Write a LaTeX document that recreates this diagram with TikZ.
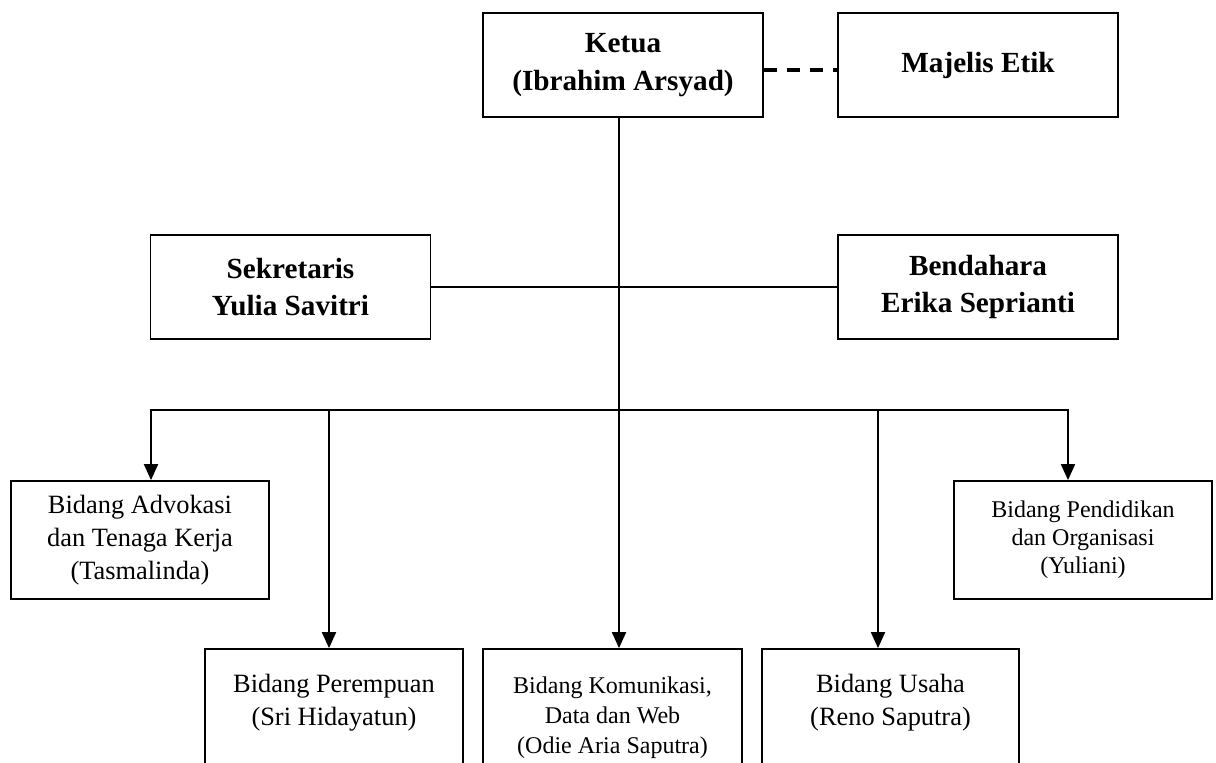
\documentclass[tikz,border=0pt]{standalone}
\usepackage{fontspec}
\setmainfont{Liberation Serif}
\usetikzlibrary{arrows.meta}

\tikzset{
  kotak/.style={draw,line width=.9pt,inner sep=0pt,align=center},
  pengurus/.style={kotak,minimum width=140pt,minimum height=52pt,
    font=\fontsize{14.6}{18.8}\selectfont\bfseries},
  bidang/.style={kotak,minimum width=129pt,minimum height=59pt,
    font=\fontsize{13.2}{16.5}\selectfont},
  teks/.style={inner sep=0pt,align=center,font=\fontsize{13.2}{16.5}\selectfont},
  garis/.style={line width=.7pt},
  panah/.style={line width=1pt,-{Triangle[length=8pt,width=7pt]}},
}

\begin{document}
\begin{tikzpicture}[x=5pt,y=5pt]
    \useasboundingbox (0,0) rectangle (121.6,-76.2);
    \clip (0,0) rectangle (121.6,-76.2);

      \node[pengurus] (ketua) at (62.3,-6.5) {Ketua\\(Ibrahim Arsyad)};
      \node[pengurus] (majelis) at (97.8,-6.5) {Majelis Etik};

      \node[pengurus] (sekretaris) at (29.05,-28.7) {Sekretaris\\Yulia Savitri};
      \node[pengurus] (bendahara) at (97.8,-28.7) {Bendahara\\Erika Seprianti};

      \node[bidang] (advokasi) at (14,-54) {Bidang Advokasi\\dan Tenaga Kerja\\(Tasmalinda)};
      \node[bidang,font=\fontsize{12}{14}\selectfont] (pendidikan) at (108.3,-54) {Bidang Pendidikan\\dan Organisasi\\(Yuliani)};

      \node[bidang,minimum height=62pt] (perempuan) at (33.4,-71.1) {};
      \node[bidang,minimum width=129.5pt,minimum height=62pt] (komunikasi) at (61.25,-71.1) {};
      \node[bidang,minimum width=128.5pt,minimum height=62pt] (usaha) at (89.05,-71.1) {};

      \node[teks] (perempuan-teks) at (33.4,-70.3) {Bidang Perempuan\\(Sri Hidayatun)};
      \node[teks,font=\fontsize{12}{15}\selectfont] (komunikasi-teks) at (61.25,-71.8) {Bidang Komunikasi,\\Data dan Web\\(Odie Aria Saputra)};
      \node[teks] (usaha-teks) at (89.05,-70.3) {Bidang Usaha\\(Reno Saputra)};

      \coordinate (b1) at (15.1,-41);
      \coordinate (b2) at (32.9,-41);
      \coordinate (b3) at (61.9,-41);
      \coordinate (b4) at (87.8,-41);
      \coordinate (b5) at (106.8,-41);

      \path[draw,line width=1.6pt,dash pattern=on 6.5pt off 5pt] ([yshift=-2.5pt]ketua.east) -- ([yshift=-2.5pt]majelis.west);
      \path[draw,garis] (b3 |- ketua.south) -- (b3);
      \path[draw,garis] (sekretaris.east) -- (bendahara.west);

      \path[draw,panah] (b3) -| (b1 |- advokasi.north);
      \path[draw,panah] (b3) -| (b2 |- perempuan.north);
      \path[draw,panah] (b3) -- (b3 |- komunikasi.north);
      \path[draw,panah] (b3) -| (b4 |- usaha.north);
      \path[draw,panah] (b3) -| (b5 |- pendidikan.north);
  \end{tikzpicture}
\end{document}
